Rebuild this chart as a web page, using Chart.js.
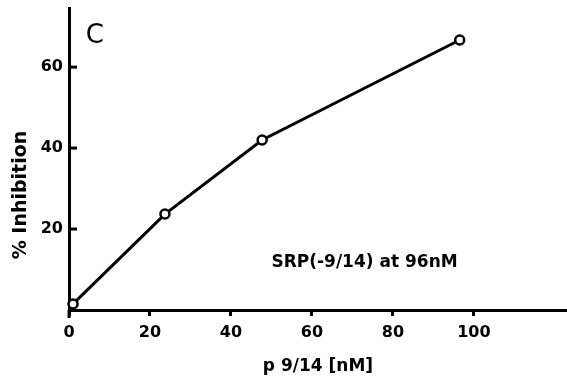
<!DOCTYPE html>
<html>
<head>
<meta charset="utf-8">
<script src="https://cdn.jsdelivr.net/npm/chart.js@4.4.1/dist/chart.umd.min.js"></script>
<style>
  html, body { margin: 0; padding: 0; background: #fff; overflow: hidden; }
  #wrap { position: relative; width: 567px; height: 383px; }
</style>
</head>
<body>
<div id="wrap"><canvas id="chart"></canvas></div>
<script>
// p 9/14 concentration (nM) vs % inhibition
const concNM = [1, 23.7, 47.7, 96.5];
const inhibition = [1.5, 23.7, 42, 66.7];
const xTickValues = [0, 20, 40, 60, 80, 100];
const yTickValues = [20, 40, 60];
const panelLetter = "C";
const noteText = "SRP(-9/14) at 96nM";
const yTitle = "% Inhibition";

const FONT = "'DejaVu Sans', sans-serif";

// y ticks point into the plot, y axis runs a bit below the x axis,
// plus the panel letter, the note and the y title
const extras = {
  id: "extras",
  afterDatasetsDraw(chart) {
    const { ctx, scales } = chart;
    const x = scales.x, y = scales.y;
    ctx.save();
    ctx.strokeStyle = "#000";
    ctx.lineWidth = 3;
    yTickValues.forEach((v) => {
      const py = y.getPixelForValue(v);
      ctx.beginPath();
      ctx.moveTo(x.left, py);
      ctx.lineTo(x.left + 8, py);
      ctx.stroke();
    });
    ctx.beginPath();
    ctx.moveTo(x.left, y.bottom);
    ctx.lineTo(x.left, y.bottom + 8);
    ctx.stroke();

    ctx.fillStyle = "#000";
    ctx.textAlign = "center";
    ctx.textBaseline = "middle";
    ctx.font = "26px " + FONT;
    ctx.fillText(panelLetter, x.getPixelForValue(6.4), y.getPixelForValue(67.6));
    ctx.font = "bold 17px " + FONT;
    ctx.fillText(noteText, x.getPixelForValue(73), y.getPixelForValue(11.6));

    ctx.translate(21, y.getPixelForValue(28.4));
    ctx.rotate(-Math.PI / 2);
    ctx.font = "bold 19px " + FONT;
    ctx.fillText(yTitle, 0, 0);
    ctx.restore();
  },
};

new Chart(document.getElementById("chart"), {
  type: "line",
  data: {
    datasets: [
      {
        data: concNM.map((c, i) => ({ x: c, y: inhibition[i] })),
        borderColor: "#000",
        borderWidth: 3,
        pointRadius: 4.5,
        pointBorderWidth: 2.5,
        pointBackgroundColor: "#fff",
        pointBorderColor: "#000",
        tension: 0,
        clip: false,
      },
    ],
  },
  options: {
    responsive: true,
    maintainAspectRatio: false,
    animation: false,
    layout: { autoPadding: false, padding: { top: 8, left: 0, right: 0, bottom: 0 } },
    plugins: { legend: { display: false }, tooltip: { enabled: false } },
    scales: {
      x: {
        type: "linear",
        min: 0,
        max: 123,
        afterBuildTicks: (s) => { s.ticks = xTickValues.map((v) => ({ value: v })); },
        afterFit: (s) => {
          s.height = 73;
          s.paddingLeft = 0;
          s.paddingRight = 0;
        },
        grid: { display: true, drawOnChartArea: false, drawTicks: true, tickLength: 6, color: "#000", lineWidth: 3 },
        border: { display: true, color: "#000", width: 3 },
        ticks: { color: "#000", padding: 7, maxRotation: 0, font: { family: FONT, size: 16, weight: "bold" } },
        title: {
          display: true,
          text: "p 9/14 [nM]",
          color: "#000",
          padding: { top: 6, bottom: 6 },
          font: { family: FONT, size: 17, weight: "bold" },
        },
      },
      y: {
        type: "linear",
        min: 0,
        max: 74.6,
        afterBuildTicks: (s) => { s.ticks = yTickValues.map((v) => ({ value: v })); },
        afterFit: (s) => {
          s.width = 69;
          s.paddingTop = 0;
          s.paddingBottom = 0;
        },
        grid: { display: false, drawTicks: false },
        border: { display: true, color: "#000", width: 3 },
        ticks: { color: "#000", padding: 6, font: { family: FONT, size: 16, weight: "bold" } },
        title: { display: false },
      },
    },
  },
  plugins: [extras],
});
</script>
</body>
</html>
